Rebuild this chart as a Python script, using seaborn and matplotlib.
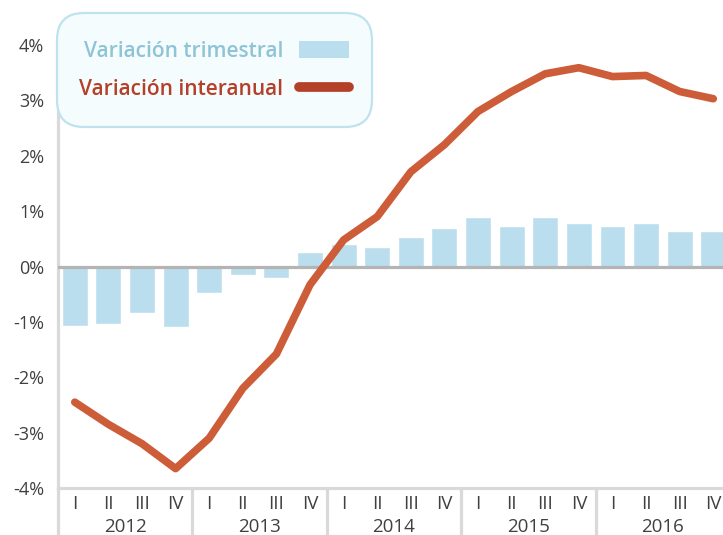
import numpy as np
import pandas as pd
import matplotlib.pyplot as plt
import seaborn as sns
from matplotlib.patches import Patch, FancyBboxPatch
from matplotlib.lines import Line2D
from matplotlib.transforms import IdentityTransform

# Data
years = ['2012', '2013', '2014', '2015', '2016']
quarters = ['I', 'II', 'III', 'IV']
trimestral = [-1.07, -1.03, -0.84, -1.10, -0.47, -0.16, -0.20, 0.26, 0.41, 0.36,
              0.54, 0.69, 0.90, 0.74, 0.90, 0.79, 0.74, 0.79, 0.65, 0.65]
interanual = [-2.45, -2.85, -3.20, -3.65, -3.10, -2.20, -1.58, -0.33, 0.48, 0.90,
              1.71, 2.20, 2.80, 3.16, 3.48, 3.59, 3.43, 3.45, 3.16, 3.03]

labels = [f'{y}-{q}' for y in years for q in quarters]
df = pd.DataFrame({'periodo': labels, 'trimestral': trimestral,
                   'interanual': interanual, 'pos': np.arange(len(labels))})

sns.set_style('white')
plt.rcParams['font.family'] = ['Open Sans', 'DejaVu Sans']

text_col = '#404040'
bar_col = '#badeed'
line_col = '#cd5c38'
axis_col = '#d9d9d9'

fig = plt.figure(figsize=(7.23, 5.35), dpi=100)
ax = fig.add_axes([58 / 723, 1 - 488 / 535, 1 - 58 / 723, 443 / 535])

sns.barplot(data=df, x='periodo', y='trimestral', color=bar_col, saturation=1,
            width=0.77, ax=ax, zorder=2)
ax.axhline(0, color='#b4b4b4', lw=2.3, zorder=3)
sns.lineplot(data=df, x='pos', y='interanual', color=line_col, lw=5.5, ax=ax,
             zorder=4, solid_capstyle='round', solid_joinstyle='round')

ax.set_xlim(-0.5, 19.29)
ax.set_ylim(-4, 4)
ax.set_yticks(range(-4, 5))
ax.set_yticklabels([f'{v}%' for v in range(-4, 5)])
ax.set_xticks(range(len(labels)))
ax.set_xticklabels(quarters * len(years))
ax.set_xlabel('')
ax.set_ylabel('')
ax.tick_params(axis='y', length=0, pad=10, labelsize=13, labelcolor=text_col)
ax.tick_params(axis='x', length=0, pad=5, labelsize=13.5, labelcolor=text_col)

for s in ['top', 'right']:
    ax.spines[s].set_visible(False)
for s in ['left', 'bottom']:
    ax.spines[s].set_color(axis_col)
    ax.spines[s].set_linewidth(2.3)

# year groups below the quarter labels
xt = ax.get_xaxis_transform()
for i, y in enumerate(years):
    ax.text(i * 4 + 1.5, -0.088, y, transform=xt, ha='center', va='center',
            fontsize=13.5, color=text_col)
    ax.plot([i * 4 - 0.5, i * 4 - 0.5], [0, -0.15], transform=xt,
            color=axis_col, lw=2.3, clip_on=False, zorder=1)

# legend box (rounded, drawn in pixels so the corners stay round)
box = FancyBboxPatch((57, 535 - 127), 315, 114, boxstyle='round,pad=0,rounding_size=27',
                     transform=IdentityTransform(), facecolor='#f4fcfe',
                     edgecolor='#bfe2ee', lw=1.6, zorder=9)
fig.patches.append(box)

handles = [Patch(facecolor=bar_col, edgecolor='none'),
           Line2D([0], [0], color='#b5402a', lw=7, solid_capstyle='round')]
leg = fig.legend(handles, ['Variación trimestral', 'Variación interanual'],
                 loc='upper left', bbox_to_anchor=(79 / 723, 1 - 41 / 535),
                 borderaxespad=0, borderpad=0,
                 markerfirst=False, handlelength=2.4, handleheight=0.9,
                 handletextpad=0.75, labelspacing=0.8,
                 prop={'size': 15, 'weight': 'semibold'},
                 labelcolor=['#8ec4d6', '#b5402a'], frameon=False)
leg.set_zorder(10)

plt.savefig('out.png', dpi=100)
